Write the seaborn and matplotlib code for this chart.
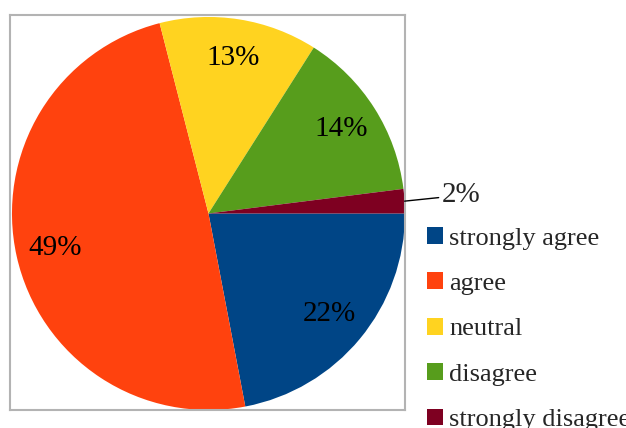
import seaborn as sns
import matplotlib.pyplot as plt
import numpy as np
from matplotlib.patches import Patch

# data
labels = ["strongly agree", "agree", "neutral", "disagree", "strongly disagree"]
values = [22, 49, 13, 14, 2]
colors = ["#004586", "#ff420e", "#ffd320", "#579d1c", "#7e0021"]

sns.set_theme(style="white")
plt.rcParams['font.family'] = ['Liberation Serif', 'DejaVu Serif']

fig = plt.figure(figsize=(6.26, 4.28), dpi=100)
ax = fig.add_axes([10 / 626, 18 / 428, 395 / 626, 395 / 428])

palette = sns.color_palette(colors)
wedges, texts, autotexts = ax.pie(values, colors=palette, startangle=0, counterclock=False,
                                  autopct="%1.0f%%", pctdistance=0.8, frame=True,
                                  wedgeprops=dict(linewidth=0),
                                  textprops=dict(fontsize=21, color="black"))

# small slice: label outside with a leader line
small = int(np.argmin(values))
w = wedges[small]
ang = np.deg2rad((w.theta1 + w.theta2) / 2)
x0, y0 = np.cos(ang), np.sin(ang)
autotexts[small].set_visible(False)
ax.annotate(autotexts[small].get_text(), xy=(x0, y0), xytext=(x0 + 0.19, y0 + 0.03),
            fontsize=21, va="center", ha="left", annotation_clip=False,
            arrowprops=dict(arrowstyle="-", color="black", lw=1, shrinkA=0, shrinkB=0))

ax.set_xlim(-1.01, 1.0)
ax.set_ylim(-1.0, 1.01)
ax.set_aspect("auto")
ax.set_xticks([])
ax.set_yticks([])
for s in ax.spines.values():
    s.set_visible(True)
    s.set_color("#b3b3b3")
    s.set_linewidth(1.5)

handles = [Patch(facecolor=c, edgecolor="none") for c in palette]
fig.legend(handles, labels, loc="upper left", bbox_to_anchor=(427 / 626, 1 - 227 / 428),
           frameon=False, fontsize=19, handlelength=0.6, handleheight=0.6,
           handletextpad=0.25, labelspacing=0.86, borderpad=0, borderaxespad=0)

fig.savefig("out.png", dpi=100)
